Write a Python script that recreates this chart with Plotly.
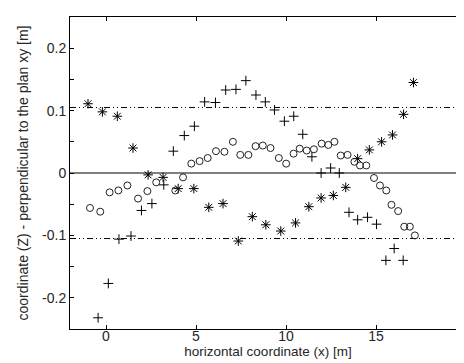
import plotly.graph_objects as go

# Series "*"
star_x = [-1.00, -0.20, 0.63, 1.50, 2.34, 3.17, 4.01, 4.88, 5.71, 6.50, 7.35, 8.13, 8.88,
          9.71, 10.53, 11.27, 11.95, 12.63, 13.32, 13.98, 14.63, 15.31, 15.92, 16.53, 17.08]
star_y = [0.111, 0.098, 0.091, 0.040, -0.003, -0.007, -0.025, -0.025, -0.055, -0.049, -0.109,
          -0.070, -0.083, -0.093, -0.080, -0.054, -0.040, -0.036, -0.023, 0.023, 0.037, 0.050,
          0.061, 0.094, 0.145]

# Series "+"
plus_x = [-0.44, 0.13, 0.72, 1.39, 1.97, 2.55, 3.21, 3.74, 4.35, 4.91, 5.48, 6.08, 6.65, 7.22,
          7.77, 8.33, 8.85, 9.36, 9.91, 10.43, 10.93, 11.44, 11.95, 12.48, 12.96, 13.50, 13.98,
          14.53, 15.03, 15.55, 16.01, 16.51]
plus_y = [-0.232, -0.177, -0.106, -0.101, -0.060, -0.049, -0.019, 0.035, 0.060, 0.075, 0.114,
          0.113, 0.133, 0.134, 0.148, 0.125, 0.114, 0.101, 0.083, 0.091, 0.062, 0.026, 0.000,
          0.008, 0.000, -0.063, -0.075, -0.071, -0.082, -0.140, -0.121, -0.140]

# Series "o"
circ_x = [-0.89, -0.32, 0.20, 0.69, 1.19, 1.78, 2.30, 2.79, 3.85, 4.28, 4.74, 5.20, 5.65, 6.11,
          6.58, 7.05, 7.46, 7.91, 8.31, 8.71, 9.14, 9.60, 10.01, 10.42, 10.76, 11.15, 11.55,
          11.98, 12.35, 12.69, 13.04, 13.42, 13.80, 14.11, 14.46, 14.89, 15.22, 15.57, 15.86,
          16.23, 16.57, 16.88, 17.16]
circ_y = [-0.056, -0.062, -0.031, -0.028, -0.020, -0.041, -0.029, -0.015, -0.028, -0.007, 0.015,
          0.019, 0.024, 0.035, 0.034, 0.050, 0.029, 0.029, 0.043, 0.044, 0.040, 0.024, 0.015,
          0.031, 0.039, 0.036, 0.038, 0.047, 0.045, 0.050, 0.028, 0.029, 0.018, 0.012, 0.012,
          -0.008, -0.020, -0.028, -0.051, -0.061, -0.086, -0.086, -0.100]

limit_levels = [0.105, -0.105]
zero_level = 0.0

x_range = [-2, 20.0001]
y_range = [-0.25, 0.25]
x_ticks = [0, 5, 10, 15, 20]
y_ticks = [-0.2, -0.1, 0, 0.1, 0.2]
y_tick_text = ["-0.2", "-0.1", "0", "0.1", "0.2"]

FONT = "Liberation Sans, Arial, sans-serif"
TXT = "#262626"

fig = go.Figure()

fig.add_trace(go.Scatter(x=x_range, y=[zero_level, zero_level], mode="lines",
                         line=dict(color="black", width=1), showlegend=False, hoverinfo="skip"))
for lv in limit_levels:
    fig.add_trace(go.Scatter(x=x_range, y=[lv, lv], mode="lines",
                             line=dict(color="black", width=1, dash="6px,3px,1px,3px,1px,3px"),
                             showlegend=False, hoverinfo="skip"))

fig.add_trace(go.Scatter(x=star_x, y=star_y, mode="markers", showlegend=False,
                         marker=dict(symbol="asterisk-open", size=8, color="black",
                                     line=dict(color="#111", width=1))))
fig.add_trace(go.Scatter(x=plus_x, y=plus_y, mode="markers", showlegend=False,
                         marker=dict(symbol="cross-thin-open", size=7, color="black",
                                     line=dict(color="#111", width=1))))
fig.add_trace(go.Scatter(x=circ_x, y=circ_y, mode="markers", showlegend=False,
                         marker=dict(symbol="circle-open", size=7, color="#222",
                                     line=dict(color="#222", width=1))))

fig.update_layout(
    width=464, height=363,
    margin=dict(l=62, r=6, t=9, b=42),
    paper_bgcolor="white", plot_bgcolor="white",
    font=dict(family=FONT, size=14, color=TXT),
    xaxis=dict(range=x_range, tickvals=x_ticks, ticks="inside", ticklen=4, tickcolor="black",
               showgrid=False, zeroline=False, showline=True, linecolor="black", linewidth=1,
               mirror="ticks", automargin=False, ticklabeloverflow="allow",
               ticklabelstandoff=-6,
               title=dict(text="horizontal coordinate (x) [m]", standoff=0,
                          font=dict(family=FONT, size=13.5, color=TXT)),
               tickfont=dict(family=FONT, size=14, color=TXT)),
    yaxis=dict(range=y_range, tickvals=y_ticks, ticktext=y_tick_text, ticks="inside", ticklen=4,
               tickcolor="black", showgrid=False, zeroline=False, showline=True,
               linecolor="black", linewidth=1, mirror="ticks", automargin=False,
               minor=dict(dtick=0.05, tick0=0, ticks="inside", ticklen=4, tickcolor="black",
                          showgrid=False),
               title=dict(text="coordinate (Z) - perpendicular to the plan xy [m]", standoff=10,
                          font=dict(family=FONT, size=14, color=TXT)),
               tickfont=dict(family=FONT, size=14, color=TXT)),
)

fig.write_html("out.html")
